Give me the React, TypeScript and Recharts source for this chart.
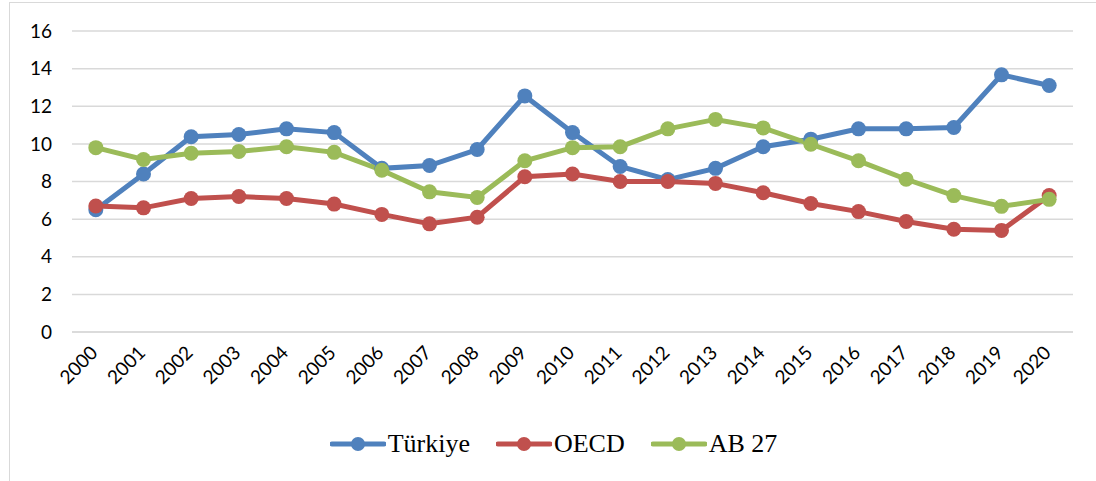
import React from 'react';
import { LineChart, Line, XAxis, YAxis, CartesianGrid, Legend } from 'recharts';

const years = ['2000', '2001', '2002', '2003', '2004', '2005', '2006', '2007', '2008', '2009', '2010', '2011', '2012', '2013', '2014', '2015', '2016', '2017', '2018', '2019', '2020'];
const turkiye = [6.5, 8.4, 10.38, 10.5, 10.8, 10.6, 8.7, 8.85, 9.7, 12.55, 10.6, 8.8, 8.1, 8.7, 9.85, 10.25, 10.8, 10.8, 10.87, 13.67, 13.1];
const oecd = [6.7, 6.6, 7.1, 7.2, 7.1, 6.8, 6.25, 5.75, 6.1, 8.25, 8.4, 8.0, 8.0, 7.9, 7.4, 6.83, 6.4, 5.87, 5.46, 5.4, 7.25];
const ab27 = [9.8, 9.17, 9.5, 9.6, 9.85, 9.55, 8.6, 7.45, 7.15, 9.1, 9.8, 9.85, 10.8, 11.3, 10.85, 9.98, 9.1, 8.12, 7.25, 6.68, 7.05];
const yTicks = [0, 2, 4, 6, 8, 10, 12, 14, 16];

const series = [
  { key: 'turkiye', name: 'Türkiye', color: '#4F81BD' },
  { key: 'oecd', name: 'OECD', color: '#C0504D' },
  { key: 'ab27', name: 'AB 27', color: '#9BBB59' },
];

const data = years.map((year, i) => ({
  year,
  turkiye: turkiye[i],
  oecd: oecd[i],
  ab27: ab27[i],
}));

const tickFont = { fontFamily: 'Lato, sans-serif', fontSize: 19, fill: '#000' };

function YearTick(props: any) {
  const { x, y, payload } = props;
  const tx = x + 3;
  const ty = y + 14;
  return (
    <text x={tx} y={ty} transform={`rotate(-45, ${tx}, ${ty})`} textAnchor="end" {...tickFont}>
      {payload.value}
    </text>
  );
}

function LegendContent() {
  return (
    <div style={{ display: 'flex', justifyContent: 'center', alignItems: 'center', paddingLeft: 24, paddingTop: 9, fontFamily: '"Liberation Serif", "Times New Roman", serif', fontSize: 26, color: '#000' }}>
      {series.map((s, i) => (
        <div key={s.key} style={{ display: 'flex', alignItems: 'center', gap: 2, marginLeft: i === 0 ? 0 : 26 }}>
          <svg width={56} height={20}>
            <line x1={2} y1={10} x2={54} y2={10} stroke={s.color} strokeWidth={5} strokeLinecap="round" />
            <circle cx={28} cy={10} r={7} fill={s.color} />
          </svg>
          <span>{s.name}</span>
        </div>
      ))}
    </div>
  );
}

export default function App() {
  return (
    <div style={{ position: 'absolute', left: 9, top: 2, width: 1100, height: 490, border: '1px solid #d9d9d9', boxSizing: 'border-box', background: '#fff' }}>
      <LineChart
        width={1087}
        height={479}
        data={data}
        margin={{ top: 28, right: 24, bottom: 18, left: 0 }}
      >
        <CartesianGrid vertical={false} stroke="#d9d9d9" strokeWidth={1.5} />
        <XAxis
          dataKey="year"
          scale="band"
          interval={0}
          tickLine={false}
          axisLine={{ stroke: '#d9d9d9', strokeWidth: 1.5 }}
          height={88}
          tick={<YearTick />}
        />
        <YAxis
          domain={[0, 16]}
          ticks={yTicks}
          interval={0}
          width={62}
          tickLine={false}
          axisLine={false}
          tickMargin={14}
          tick={tickFont}
        />
        <Legend verticalAlign="bottom" height={44} content={<LegendContent />} />
        {series.map(s => (
          <Line
            key={s.key}
            type="linear"
            dataKey={s.key}
            name={s.name}
            stroke={s.color}
            strokeWidth={5}
            dot={{ r: 7.5, fill: s.color, stroke: s.color, strokeWidth: 0 }}
            isAnimationActive={false}
          />
        ))}
      </LineChart>
    </div>
  );
}
